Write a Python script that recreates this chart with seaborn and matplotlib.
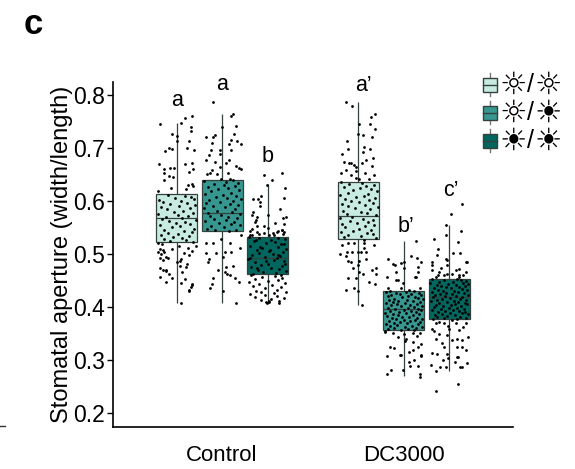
# Stomatal aperture boxplots with the single measurements on top
import pandas as pd
import seaborn as sns
import matplotlib.pyplot as plt
from matplotlib.lines import Line2D
from matplotlib.patches import Rectangle

groups = ["Control", "DC3000"]
lights = ["LL", "LD", "DD"]
colors = ["#C7EAE1", "#35978F", "#01665E"]

# five number summaries: low whisker, q1, median, q3, high whisker
box_control_ll = [0.408, 0.522, 0.567, 0.613, 0.747]
box_control_ld = [0.408, 0.544, 0.577, 0.640, 0.764]
box_control_dd = [0.408, 0.462, 0.493, 0.532, 0.632]
box_dc3000_ll = [0.404, 0.528, 0.572, 0.636, 0.787]
box_dc3000_ld = [0.269, 0.356, 0.396, 0.430, 0.525]
box_dc3000_dd = [0.280, 0.377, 0.419, 0.453, 0.555]

# single measurements, y value and sideways jitter
y_control_ll = [
    .745, .748, .760, .757, .740, .732, .726, .722, .713, .713,
    .694, .700, .698, .700, .697, .669, .661, .663, .663, .670,
    .671, .661, .655, .652, .648, .645, .640, .625, .622, .618,
    .630, .632, .628, .612, .610, .608, .606, .604, .602, .600,
    .598, .596, .594, .592, .590, .588, .586, .584, .582, .580,
    .578, .576, .574, .572, .570, .568, .566, .564, .562, .560,
    .558, .556, .554, .552, .550, .548, .546, .544, .542, .540,
    .538, .536, .534, .532, .530, .528, .526, .524, .522, .520,
    .518, .515, .512, .510, .508, .506, .504, .504, .502, .500,
    .498, .495, .492, .490, .488, .485, .482, .478, .473, .470,
    .470, .468, .466, .462, .457, .454, .452, .448, .445, .444,
    .441, .438, .433, .430, .407, .486, .492, .476, .510, .516,
]
dx_control_ll = [
    -.090, .026, .084, .044, .080, .077, -.026, .000, .000, .068,
    -.066, -.044, -.024, .055, .093, -.099, -.069, -.035, -.016, .047,
    .086, .090, .068, -.070, -.040, -.020, -.072, -.030, .050, -.105,
    .060, .085, .092, -.048, .045, .080, -.010, .095, -.095, .022,
    -.075, .058, -.034, .100, .015, -.085, .072, -.055, .035, -.015,
    .088, -.100, .005, .062, -.060, .028, -.080, .105, -.040, .048,
    -.005, .075, -.092, .018, -.028, .098, -.068, .040, .082, -.050,
    .010, -.088, .066, -.020, .030, -.072, .054, -.038, .092, -.102,
    -.082, .012, .060, -.092, -.076, .085, -.100, -.070, .038, -.084,
    .070, -.060, -.090, .024, -.075, .000, .055, .020, -.093, -.074,
    -.060, -.056, .030, -.040, -.093, -.026, .047, -.060, .026, .082,
    .086, .078, .068, .066, .026, .016, -.045, .050, -.028, .104,
]

y_control_ld = [
    .787, .764, .760, .739, .742, .726, .724, .720, .720, .716,
    .714, .710, .707, .707, .697, .697, .697, .688, .687, .677,
    .677, .674, .671, .666, .663, .661, .664, .658, .652, .653,
    .650, .650, .642, .642, .640, .638, .636, .634, .632, .630,
    .628, .626, .624, .622, .620, .618, .616, .614, .612, .610,
    .608, .606, .604, .602, .600, .598, .596, .594, .592, .590,
    .588, .586, .584, .582, .580, .578, .576, .574, .572, .570,
    .568, .566, .564, .562, .560, .558, .556, .554, .552, .550,
    .548, .546, .545, .544, .520, .520, .520, .529, .502, .502,
    .504, .504, .485, .495, .476, .466, .460, .454, .443, .435,
    .454, .447, .430, .407, .512, .490, .478, .470, .462, .536,
]
dx_control_ld = [
    -.051, .060, .051, .000, .075, .064, -.040, -.086, -.050, .050,
    .080, -.053, .102, .037, -.062, -.013, .050, -.010, -.073, -.090,
    .040, -.040, .024, .075, .093, .102, -.009, -.058, -.068, .033,
    -.027, -.082, .042, -.004, .060, -.100, .020, .085, -.045, .010,
    .070, -.080, .035, -.020, .095, -.060, .050, -.095, .005, .078,
    -.035, .028, .105, -.072, .062, -.012, -.088, .044, .090, -.052,
    .015, -.102, .072, -.028, .055, -.078, .098, -.005, -.068, .032,
    .082, -.042, .022, -.092, .065, -.018, .048, .100, -.060, .008,
    -.084, .075, -.038, .040, -.086, -.050, .042, -.004, -.090, -.035,
    .015, .051, -.077, .005, .024, .015, .042, -.049, -.053, -.064,
    .069, .093, .005, .077, .096, -.070, .060, -.020, .028, .102,
]

y_control_dd = [
    .653, .649, .640, .630, .625, .609, .603, .603, .598, .605,
    .580, .574, .570, .564, .574, .570, .567, .545, .542, .542,
    .535, .539, .533, .531, .530, .528, .526, .524, .522, .520,
    .518, .516, .514, .512, .510, .508, .506, .504, .502, .500,
    .498, .496, .494, .492, .490, .488, .486, .484, .482, .480,
    .478, .476, .474, .472, .470, .468, .466, .464, .462, .461,
    .535, .527, .519, .513, .507, .499, .493, .487, .481, .473,
    .460, .458, .457, .455, .453, .451, .449, .447, .445, .443,
    .441, .439, .437, .435, .433, .431, .429, .428, .426, .424,
    .560, .556, .552, .548, .544, .540, .538, .537, .536, .535,
    .590, .585, .558, .553, .549, .546, .543, .541, .422, .420,
    .418, .417, .415, .414, .412, .411, .410, .409, .408, .407,
]
dx_control_dd = [
    .082, -.020, .022, -.005, .095, -.037, -.051, -.079, -.042, .091,
    -.082, -.084, -.060, -.064, .000, .104, .086, .077, -.060, .090,
    -.088, -.020, -.102, .060, -.045, .095, .020, -.075, .040, -.010,
    .075, -.095, .055, -.030, .100, -.060, .010, .085, -.048, .028,
    -.085, .068, -.015, .050, -.105, .035, .092, -.070, .005, -.038,
    .078, -.090, .018, .062, -.055, .102, -.025, .045, -.078, .072,
    .033, -.066, .088, -.042, .015, .058, -.098, -.008, .097, -.058,
    -.090, .040, -.030, .082, -.070, .060, .005, -.100, .095, -.048,
    .025, -.082, .072, -.015, .050, -.062, .100, -.035, .035, -.096,
    -.070, .090, -.020, -.088, .060, .030, -.045, .085, -.098, .010,
    -.040, .068, .040, -.060, .005, .078, -.095, .050, -.012, .052,
    -.070, .088, .020, -.034, .010, .064, .008, -.010, -.004, .062,
]

y_dc3000_ll = [
    .787, .780, .764, .758, .746, .746, .735, .726, .724, .720,
    .713, .702, .698, .698, .693, .688, .682, .677, .673, .672,
    .672, .668, .671, .665, .666, .652, .658, .657, .652, .649,
    .649, .644, .642, .642, .636, .634, .632, .630, .628, .626,
    .624, .622, .620, .618, .616, .614, .612, .610, .608, .606,
    .604, .602, .600, .598, .596, .594, .592, .590, .588, .586,
    .584, .582, .580, .578, .576, .574, .570, .568, .566, .564,
    .562, .560, .558, .556, .554, .552, .550, .548, .546, .544,
    .542, .540, .538, .536, .534, .532, .530, .526, .517, .520,
    .520, .520, .517, .500, .504, .504, .504, .504, .504, .490,
    .486, .486, .479, .474, .484, .474, .466, .462, .462, .444,
    .454, .447, .430, .433, .435, .404, .512, .496, .470, .455,
]
dx_dc3000_ll = [
    -.071, -.038, .093, .069, .005, .066, .093, -.004, .024, .073,
    -.064, .033, -.059, .066, .024, -.090, .079, .042, -.082, -.053,
    -.040, -.027, .018, -.013, .075, -.095, -.071, -.013, .038, .084,
    -.040, -.013, .005, .060, -.095, .020, -.050, .085, .040, -.080,
    .010, .070, -.030, .100, -.060, .050, -.100, .030, -.015, .090,
    -.075, .060, -.040, .005, .080, -.090, .035, -.055, .105, -.020,
    .065, -.085, .015, .045, -.065, .095, -.035, -.102, .025, .078,
    -.048, .055, -.010, -.092, .088, .038, -.072, .002, .068, -.028,
    -.098, .048, .082, -.058, .012, -.080, .098, .032, -.090, -.058,
    -.022, .033, .088, -.099, -.064, -.035, -.004, .015, .042, .042,
    -.059, .005, -.005, .097, -.040, -.030, .004, .027, .097, .090,
    -.059, .060, .000, -.071, -.022, .018, .030, -.070, .076, -.016,
]

y_dc3000_ld = [
    .525, .497, .492, .490, .482, .483, .485, .485, .475, .473,
    .466, .479, .466, .457, .457, .457, .451, .451, .445, .435,
    .435, .435, .432, .431, .430, .429, .428, .427, .426, .425,
    .424, .423, .422, .421, .420, .419, .418, .417, .416, .415,
    .414, .413, .412, .411, .410, .409, .408, .407, .406, .405,
    .404, .403, .402, .401, .400, .399, .398, .397, .396, .395,
    .394, .393, .392, .391, .390, .389, .388, .387, .386, .385,
    .384, .383, .382, .381, .380, .379, .378, .377, .376, .375,
    .374, .373, .372, .371, .370, .369, .368, .367, .366, .365,
    .364, .363, .362, .361, .360, .359, .358, .357, .356, .355,
    .353, .351, .350, .351, .351, .340, .334, .331, .325, .324,
    .323, .319, .308, .307, .309, .309, .309, .296, .288, .289,
    .282, .274, .274, .282, .268, .344, .336, .346, .316, .300,
]
dx_dc3000_ld = [
    .064, .040, .071, -.088, -.060, -.015, -.002, .095, .077, .000,
    .077, -.051, -.042, .069, .059, -.095, -.033, -.042, -.005, -.088,
    .086, -.015, .030, .055, -.075, .010, -.100, .085, -.045, .040,
    -.020, .095, -.070, .025, -.090, .060, -.010, .075, -.055, .105,
    .015, -.082, .048, -.030, .090, -.062, .005, -.098, .070, -.040,
    .032, -.072, .100, -.018, .055, -.088, .020, .080, -.050, -.002,
    .094, -.078, .038, -.026, .065, -.104, .012, -.060, .085, -.035,
    .050, -.092, .028, -.012, .072, -.068, .098, -.044, .002, .060,
    -.084, .034, -.022, .088, -.056, .016, -.096, .076, -.036, .042,
    -.074, .100, .008, -.052, .068, -.090, .024, -.016, .058, -.102,
    -.106, -.060, .003, .049, .086, .013, .049, .095, .077, -.079,
    -.057, .049, .095, -.093, -.024, -.015, .095, .026, .031, .077,
    -.073, -.093, .091, -.005, .091, -.035, .004, .070, .030, .058,
]

y_dc3000_dd = [
    .594, .575, .554, .543, .536, .528, .523, .509, .498, .491,
    .488, .501, .501, .485, .479, .473, .479, .485, .485, .472,
    .469, .470, .466, .466, .460, .463, .463, .460, .460, .460,
    .457, .457, .453, .452, .451, .450, .449, .448, .447, .446,
    .445, .444, .443, .442, .441, .440, .439, .438, .437, .436,
    .435, .434, .433, .432, .431, .430, .429, .428, .427, .426,
    .425, .424, .423, .422, .421, .420, .419, .418, .417, .416,
    .415, .414, .413, .412, .411, .410, .409, .408, .407, .406,
    .405, .404, .403, .402, .401, .400, .399, .398, .397, .396,
    .395, .394, .393, .392, .391, .390, .389, .388, .387, .386,
    .385, .384, .383, .382, .381, .380, .379, .378, .377, .376,
    .369, .369, .369, .369, .359, .359, .356, .350, .347, .340,
    .340, .337, .337, .325, .325, .325, .319, .312, .312, .306,
    .313, .306, .294, .290, .286, .286, .286, .280, .287, .254,
    .241, .372, .365, .362, .354, .344, .332, .304, .300, .296,
]
dx_dc3000_dd = [
    .071, .011, -.016, .066, -.020, -.084, .049, -.062, -.066, -.020,
    -.011, .020, .057, -.093, -.093, -.047, -.011, .099, .093, .053,
    -.093, .035, -.057, .089, -.029, -.011, .016, -.060, .077, .053,
    -.075, .053, .040, -.098, .062, -.030, .090, -.055, .020, -.105,
    .075, -.010, .100, -.070, .035, -.045, .085, -.020, .055, -.085,
    .008, .068, -.062, .096, -.034, .028, -.095, .046, -.016, .080,
    -.050, .014, .104, -.078, .038, -.026, .072, -.090, .004, .058,
    -.042, .092, -.066, .024, -.102, .050, -.012, .084, -.056, .032,
    .098, -.074, .010, -.036, .066, -.086, .042, -.004, .078, -.048,
    .020, -.098, .054, -.022, .088, -.060, .006, .070, -.040, .102,
    -.080, .030, -.014, .060, -.068, .094, -.030, .044, -.092, .012,
    -.075, -.029, .035, .089, -.093, -.002, .053, -.057, -.011, -.075,
    .044, .071, .016, -.029, .044, .068, .094, -.066, -.011, .044,
    -.093, .048, .097, -.102, -.051, -.020, .060, -.071, .070, .049,
    -.075, -.055, -.010, .075, -.085, .100, -.040, -.008, -.035, .030,
]

# letters above the boxes
sig_labels = ["a", "a", "b", "a’", "b’", "c’"]
sig_x = [-0.25, 0.0, 0.25, 0.775, 1.01, 1.26]
sig_y = [0.790, 0.820, 0.683, 0.817, 0.551, 0.619]

# legend glyphs, left and right sun for each treatment
legend_left = ["☼", "☼", "☀"]
legend_right = ["☼", "☀", "☀"]

yticks = [0.2, 0.3, 0.4, 0.5, 0.6, 0.7, 0.8]

plt.rcParams["font.family"] = ["Liberation Sans", "DejaVu Sans"]

fig = plt.figure(figsize=(5.75, 4.69), dpi=100)
ax = fig.add_axes([113 / 575, 1 - 427 / 469, 400 / 575, 345 / 469])

# tables for seaborn
box_values = [box_control_ll, box_control_ld, box_control_dd,
              box_dc3000_ll, box_dc3000_ld, box_dc3000_dd]
point_y = [y_control_ll, y_control_ld, y_control_dd,
           y_dc3000_ll, y_dc3000_ld, y_dc3000_dd]
point_dx = [dx_control_ll, dx_control_ld, dx_control_dd,
            dx_dc3000_ll, dx_dc3000_ld, dx_dc3000_dd]

box_rows = []
point_rows = []
for i in range(6):
    group_i = i // 3
    light_i = i % 3
    for v in box_values[i]:
        box_rows.append({"group": groups[group_i], "light": lights[light_i], "value": v})
    centre = group_i + (light_i - 1) * 0.25
    for v, d in zip(point_y[i], point_dx[i], strict=True):
        point_rows.append({"x": centre + d, "value": v})
box_df = pd.DataFrame(box_rows)
point_df = pd.DataFrame(point_rows)

# whis=(0, 100) makes the whiskers reach the ends of each summary
sns.boxplot(data=box_df, x="group", y="value", hue="light", order=groups, hue_order=lights,
            palette=colors, saturation=1, width=0.75, gap=0.1, whis=(0, 100),
            showcaps=False, linewidth=0.9, linecolor="#34423f", legend=False, ax=ax)
for line in ax.lines:
    line.set_linewidth(0.9)

sns.scatterplot(data=point_df, x="x", y="value", color="black", s=4, linewidth=0,
                zorder=5, legend=False, ax=ax)

for label, x, y in zip(sig_labels, sig_x, sig_y):
    ax.text(x, y, label, fontsize=15.5, ha="center", va="center", clip_on=False)

ax.set_xlim(-0.6, 1.6)
ax.set_ylim(0.1736, 0.8245)
ax.set_xticks([0, 1])
ax.set_xticklabels(groups)
ax.set_yticks(yticks)
ax.set_yticklabels([f"{t:.1f}" for t in yticks])
ax.set_xlabel("")
ax.set_ylabel("Stomatal aperture (width/length)", fontsize=17, labelpad=0)
ax.tick_params(axis="y", labelsize=16.5, length=4, width=1, pad=1.5)
ax.tick_params(axis="x", labelsize=16, length=0, pad=13)
sns.despine(ax=ax)
for side in ["left", "bottom"]:
    ax.spines[side].set_linewidth(1.2)

# hand made legend in figure pixels
def fx(px):
    return px / 575

def fy(py):
    return 1 - py / 469

for color, left, right, cy in zip(colors, legend_left, legend_right, [85, 113, 141]):
    fig.add_artist(Line2D([fx(490), fx(490)], [fy(cy - 12), fy(cy + 11)], color="#777777", lw=1))
    fig.add_artist(Rectangle((fx(483), fy(cy + 7)), 14 / 575, 14 / 469, facecolor=color,
                             edgecolor="#34423f", lw=1, zorder=3))
    fig.add_artist(Line2D([fx(483), fx(497)], [fy(cy), fy(cy)], color="#34423f", lw=1, zorder=4))
    fig.text(fx(513), fy(cy), left, fontsize=22, ha="center", va="center", family="DejaVu Sans")
    fig.text(fx(530.5), fy(cy), "/", fontsize=18, ha="center", va="center")
    fig.text(fx(548), fy(cy), right, fontsize=22, ha="center", va="center", family="DejaVu Sans")

# panel letter and the stray dash at the left edge
fig.text(fx(33), fy(25), "c", fontsize=25, fontweight="bold", ha="center", va="center")
fig.add_artist(Line2D([0, fx(5)], [fy(426), fy(426)], color="#333333", lw=1))

fig.savefig("out.png", dpi=100)
